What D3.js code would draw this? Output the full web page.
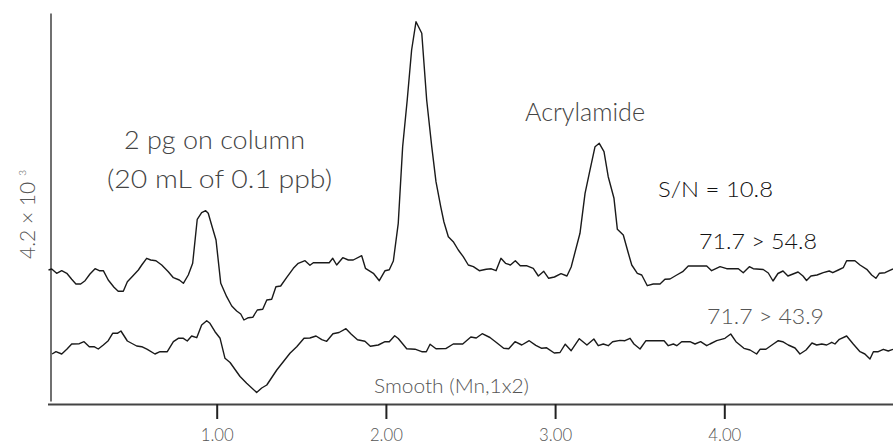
<!DOCTYPE html>
<html><head><meta charset="utf-8">
<script src="https://cdn.jsdelivr.net/npm/d3@7"></script>
<style>
body{margin:0;background:#fff;}
svg{display:block;background:#fff;}
text{font-family:Lato,"Open Sans","DejaVu Sans",sans-serif;font-weight:300;}
</style>
</head><body>
<svg id="chart" width="893" height="445"></svg>
<script>
// ---- data (time in minutes, signal in arbitrary counts) ----
const timeTicks = [1, 2, 3, 4];

const traceA_time = [0.006,0.025,0.054,0.084,0.114,0.143,0.168,0.196,0.222,0.251,0.281,0.306,0.330,0.359,0.393,0.418,0.448,0.472,0.504,0.537,0.557,0.586,0.610,0.641,0.675,0.714,0.744,0.779,0.803,0.832,0.858,0.885,0.911,0.935,0.950,0.970,0.996,1.024,1.059,1.089,1.118,1.142,1.161,1.187,1.213,1.240,1.272,1.296,1.325,1.350,1.378,1.414,1.453,1.482,1.522,1.551,1.571,1.611,1.665,1.686,1.709,1.745,1.778,1.807,1.857,1.879,1.926,1.961,1.995,2.020,2.044,2.073,2.099,2.126,2.152,2.178,2.212,2.241,2.271,2.296,2.324,2.343,2.369,2.398,2.428,2.457,2.487,2.517,2.552,2.593,2.623,2.651,2.680,2.707,2.736,2.765,2.794,2.834,2.871,2.901,2.933,2.962,2.996,3.035,3.070,3.095,3.147,3.177,3.202,3.236,3.261,3.289,3.314,3.348,3.368,3.403,3.433,3.453,3.486,3.512,3.545,3.580,3.620,3.649,3.679,3.719,3.754,3.787,3.837,3.896,3.925,3.975,4.014,4.083,4.112,4.148,4.171,4.230,4.260,4.288,4.317,4.347,4.376,4.406,4.436,4.465,4.486,4.512,4.548,4.585,4.620,4.641,4.674,4.703,4.723,4.772,4.802,4.842,4.871,4.896,4.916,4.950,4.975,4.997];
const traceA_signal = [131,132,127.7,130.3,127.7,121.7,117,117,120.3,127,132.3,130.3,130.3,121,113.7,109.7,109.7,119.3,125,131,136,142.7,141,140.3,136,129.3,123.3,121,117.7,126,137.7,181.7,188.3,190.3,187.7,176,161,117.7,104.3,95,90,87,81,83.3,83.7,91,91.7,101,101.7,114.3,115,123.7,132.7,137.7,140.3,135.7,138.3,138.3,138.3,142.7,136,143.3,141,141,145.3,132.7,127.7,120.3,130.3,131.3,140,177.7,254.3,301,351,379.3,367.7,301,254.3,219.3,194.3,179,164.3,159.3,151,144.3,136,134.3,130.3,131.8,132.2,130.3,142.7,137.7,136,140.3,135.3,135.2,132.7,125,129.7,122.7,124,127.3,125,134,167.7,207.7,227.7,254.3,257.7,249.3,224.3,202.7,171.7,166,147.7,136,127.7,126,115.3,117,117,121.7,122,126,129.3,135,135,135,130.3,134.3,132.3,132.3,128.3,134.3,132.3,131.5,128,120,127.5,130,125,127,129,125,120.5,125,126,128.3,130,128.3,131,133.3,140.3,140.3,136,131.7,126,122.7,127.7,128.3,130.3,132];

const traceB_time = [0.027,0.050,0.084,0.114,0.143,0.188,0.216,0.247,0.275,0.300,0.330,0.359,0.385,0.413,0.434,0.472,0.527,0.557,0.590,0.635,0.665,0.708,0.744,0.773,0.803,0.826,0.852,0.882,0.911,0.941,0.960,0.990,1.020,1.049,1.079,1.138,1.177,1.236,1.266,1.296,1.355,1.433,1.473,1.516,1.551,1.587,1.621,1.650,1.687,1.723,1.764,1.794,1.832,1.876,1.908,1.955,1.995,2.020,2.052,2.073,2.123,2.172,2.212,2.239,2.261,2.296,2.354,2.398,2.454,2.502,2.534,2.569,2.615,2.655,2.696,2.726,2.763,2.803,2.847,2.886,2.921,2.950,2.995,3.029,3.060,3.095,3.143,3.188,3.229,3.255,3.285,3.314,3.340,3.384,3.413,3.443,3.466,3.502,3.537,3.571,3.644,3.669,3.699,3.719,3.748,3.797,3.827,3.860,3.896,3.915,3.955,4.004,4.038,4.069,4.116,4.152,4.191,4.211,4.246,4.290,4.319,4.345,4.378,4.418,4.447,4.483,4.518,4.546,4.576,4.605,4.635,4.654,4.680,4.723,4.762,4.802,4.831,4.861,4.881,4.910,4.940,4.969,4.997];
const traceB_signal = [47,49.3,47,51.7,57,57.3,59.3,54.3,54.3,52,56,60.3,67.7,67.7,70,60,55,54.3,51.7,47,49.3,49.3,59.3,62.7,62.7,60,65,63.3,76,80.3,77.7,69.3,62.7,42.7,38.5,24.5,17.7,8.5,13,16,31,47.7,54.3,62.7,63,65,61.3,59.7,67.3,68.5,72.3,67,61.3,59.7,54.7,56,59.3,59.3,65.3,62.5,52.3,51.8,49.3,49.3,56.8,52.2,52.4,57,57,64,63,67.3,63.5,58.2,52.7,52.2,59.3,56,60.3,55.6,52.7,53.2,48,48.5,56.8,50.3,62.3,56,62,55.3,57,55.3,59.3,60.6,60.3,62.7,57,52,60.3,60.3,60.3,55.3,57,55.3,59.3,59.3,57,59.3,55.3,57,60.3,62.7,67,59.3,52.7,51,47,51.7,51.7,57,60.3,59.3,56,53,47,51,58,56,57,56,58.7,57,61.7,65,57,49.3,47,42,49.3,49.3,51.7,50,51.7];

const traceNames = ["71.7 > 54.8", "71.7 > 43.9"];
const yAxisLabel = "4.2 \u00d7 10";
const yAxisExp = "3";
const sampleLines = ["2 pg on column", "(20 mL of 0.1 ppb)"];
const compoundName = "Acrylamide";
const snText = "S/N = 10.8";
const smoothText = "Smooth (Mn,1x2)";

// ---- chart ----
const svg = d3.select("#chart");
const x = d3.scaleLinear().domain([0, 5]).range([47.5, 893.5]);
const y = d3.scaleLinear().domain([0, 388]).range([401, 13]);

// y axis (no ticks)
const gy = svg.append("g").attr("transform", "translate(50.5,0)")
  .call(d3.axisLeft(y).tickValues([]).tickSizeOuter(0));
gy.select(".domain").attr("stroke", "#111").attr("stroke-width", 1.2);

// x axis
const gx = svg.append("g").attr("transform", "translate(0,404)")
  .call(d3.axisBottom(x).tickValues(timeTicks).tickFormat(d3.format(".2f")).tickSize(15).tickSizeOuter(0));
gx.select(".domain").attr("stroke", "#444").attr("stroke-width", 2.2);
gx.selectAll(".tick line").attr("stroke", "#222").attr("stroke-width", 2);
gx.selectAll(".tick text")
  .attr("y", 37).attr("dy", 0)
  .attr("font-size", 18).attr("fill", "#555")
  .attr("font-family", "Lato, 'Open Sans', sans-serif")
  .attr("font-weight", 300)
  .attr("textLength", 33).attr("lengthAdjust", "spacingAndGlyphs");

// traces
const line = d3.line().x(d => x(d[0])).y(d => y(d[1]));
const traces = [
  d3.zip(traceA_time, traceA_signal),
  d3.zip(traceB_time, traceB_signal)
];
svg.selectAll("path.trace").data(traces).join("path")
  .attr("class", "trace")
  .attr("d", line)
  .attr("fill", "none")
  .attr("stroke", "#1a1a1a")
  .attr("stroke-width", 1.4)
  .attr("stroke-linejoin", "round");

// y label
const yl = svg.append("text")
  .attr("transform", "translate(35,259) rotate(-90)")
  .attr("font-size", 21).attr("fill", "#555")
  .text(yAxisLabel);
yl.append("tspan").attr("font-size", 10).attr("dx", 6).attr("dy", -9).text(yAxisExp);

// annotations
function note(txt, px, py, size, len, fill) {
  svg.append("text").attr("x", px).attr("y", py)
    .attr("font-size", size).attr("fill", fill)
    .attr("textLength", len).attr("lengthAdjust", "spacingAndGlyphs")
    .text(txt);
}
note(sampleLines[0], 124, 149, 26, 181, "#444");
note(sampleLines[1], 107, 188, 26, 225, "#444");
note(compoundName, 525, 121, 26, 120, "#444");
note(snText, 658, 197, 21, 115, "#111");
note(traceNames[0], 699, 249, 22, 118, "#111");
note(traceNames[1], 707, 324, 22, 117, "#555");
note(smoothText, 374, 393, 20, 155, "#555");
</script>
</body></html>
